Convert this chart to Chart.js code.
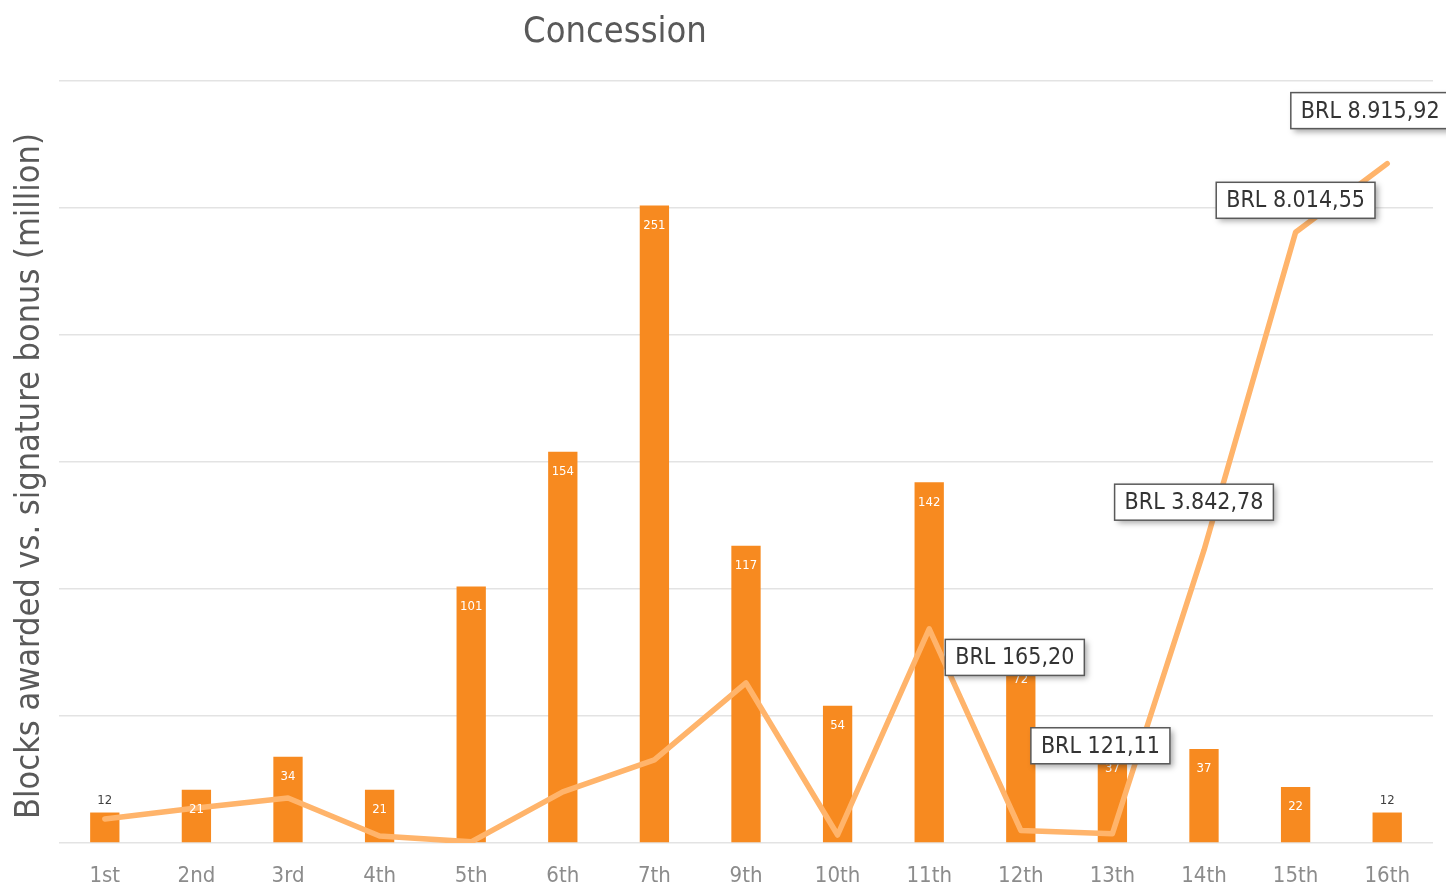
<!DOCTYPE html>
<html>
<head>
<meta charset="utf-8">
<script src="https://cdn.jsdelivr.net/npm/chart.js@4/dist/chart.umd.min.js"></script>
<style>
  html, body { margin: 0; padding: 0; background: #fff; }
  #wrap { width: 1446px; height: 889px; }
</style>
</head>
<body>
<div id="wrap"><canvas id="chart"></canvas></div>
<script>
// rounds of bidding (no 8th round)
const rounds = ['1st', '2nd', '3rd', '4th', '5th', '6th', '7th', '9th', '10th', '11th', '12th', '13th', '14th', '15th', '16th'];
// blocks awarded per round
const blocks = [12, 21, 34, 21, 101, 154, 251, 117, 54, 142, 72, 37, 37, 22, 12];
// signature bonus, BRL million
const bonus = [315, 460, 590, 92, 15, 670, 1090, 2100, 105, 2810, 165.20, 121.11, 3842.78, 8014.55, 8915.92];
// callout text for the last rounds
const bonusLabels = [null, null, null, null, null, null, null, null, null, null,
  'BRL 165,20', 'BRL 121,11', 'BRL 3.842,78', 'BRL 8.014,55', 'BRL 8.915,92'];
// where each callout sits relative to its point (px)
const calloutOffsets = [null, null, null, null, null, null, null, null, null, null,
  [-6, -173], [-12, -88], [-10, -48], [0, -32], [-17, -53]];

const FONT = "'DejaVu Sans Condensed', 'DejaVu Sans', sans-serif";
Chart.defaults.font.family = FONT;

const BAR_COLOR = '#F78A20';
const LINE_COLOR = '#FFB46B';

// titles are placed off-centre like the original, so draw them by hand
const titlePlugin = {
  id: 'offTitle',
  afterDraw(chart) {
    const ctx = chart.ctx;
    ctx.save();
    ctx.fillStyle = '#595959';
    ctx.textAlign = 'center';
    ctx.textBaseline = 'middle';
    ctx.font = "36px " + FONT;
    ctx.fillText('Concession', 615, 33);

    ctx.translate(30, 476);
    ctx.rotate(-Math.PI / 2);
    ctx.font = "34px " + FONT;
    ctx.fillText('Blocks awarded vs. signature bonus (million)', 0, 0);
    ctx.restore();
  }
};

const labelPlugin = {
  id: 'labels',
  afterDatasetsDraw(chart) {
    const ctx = chart.ctx;
    ctx.save();

    // bar values
    const barMeta = chart.getDatasetMeta(1);
    ctx.font = "13px " + FONT;
    ctx.textAlign = 'center';
    ctx.textBaseline = 'middle';
    barMeta.data.forEach((bar, i) => {
      const v = blocks[i];
      if (v < 15) {
        ctx.fillStyle = '#404040';
        ctx.fillText(v, bar.x, bar.y - 12);
      } else {
        ctx.fillStyle = '#ffffff';
        ctx.fillText(v, bar.x, bar.y + 20);
      }
    });

    // callouts on the bonus line
    const lineMeta = chart.getDatasetMeta(0);
    ctx.font = "23px " + FONT;
    lineMeta.data.forEach((pt, i) => {
      const txt = bonusLabels[i];
      if (!txt) return;
      const off = calloutOffsets[i];
      const cx = pt.x + off[0];
      const cy = pt.y + off[1];
      const w = ctx.measureText(txt).width + 20;
      const h = 36;
      ctx.save();
      ctx.shadowColor = 'rgba(0,0,0,0.35)';
      ctx.shadowBlur = 6;
      ctx.shadowOffsetX = 3;
      ctx.shadowOffsetY = 3;
      ctx.fillStyle = '#ffffff';
      ctx.fillRect(cx - w / 2, cy - h / 2, w, h);
      ctx.restore();
      ctx.strokeStyle = '#595959';
      ctx.lineWidth = 1.5;
      ctx.strokeRect(cx - w / 2, cy - h / 2, w, h);
      ctx.fillStyle = '#333333';
      ctx.fillText(txt, cx, cy + 1);
    });
    ctx.restore();
  }
};

new Chart(document.getElementById('chart'), {
  data: {
    labels: rounds,
    datasets: [
      {
        type: 'line',
        label: 'Signature bonus',
        data: bonus,
        yAxisID: 'y1',
        borderColor: LINE_COLOR,
        borderWidth: 5.5,
        pointRadius: 0,
        tension: 0,
        borderJoinStyle: 'round',
        borderCapStyle: 'round',
        order: 0
      },
      {
        type: 'bar',
        label: 'Blocks awarded',
        data: blocks,
        yAxisID: 'y',
        backgroundColor: BAR_COLOR,
        categoryPercentage: 1,
        barPercentage: 0.32,
        order: 1
      }
    ]
  },
  options: {
    responsive: true,
    maintainAspectRatio: false,
    animation: false,
    layout: { padding: { top: 81, right: 13, left: 59, bottom: 0 } },
    plugins: {
      legend: { display: false },
      tooltip: { enabled: false }
    },
    scales: {
      x: {
        grid: { display: false },
        border: { display: false },
        ticks: { color: '#8c8c8c', font: { size: 22 }, padding: 12 },
        afterFit(scale) { scale.height = 46; }
      },
      y: {
        min: 0,
        max: 300,
        ticks: { display: false, stepSize: 50 },
        grid: { color: '#e3e3e3', lineWidth: 1.5, drawTicks: false },
        border: { display: false }
      },
      y1: {
        position: 'right',
        display: false,
        min: 0,
        max: 10000
      }
    }
  },
  plugins: [titlePlugin, labelPlugin]
});
</script>
</body>
</html>
